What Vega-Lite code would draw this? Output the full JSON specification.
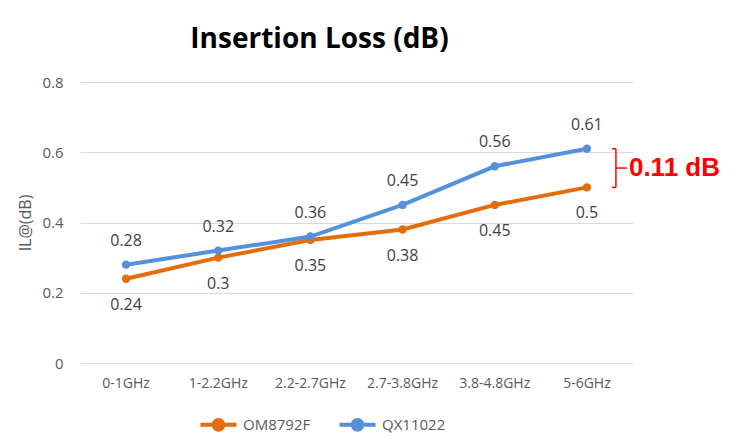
{
  "$schema": "https://vega.github.io/schema/vega-lite/v6.json",
  "autosize": {"type": "none"},
  "width": 553,
  "height": 281,
  "padding": {"left": 80, "top": 82, "right": 106, "bottom": 83},
  "background": "white",
  "title": {
    "text": "Insertion Loss (dB)",
    "font": "Open Sans",
    "fontSize": 28,
    "fontWeight": "bold",
    "color": "#000000",
    "anchor": "middle",
    "dx": -37,
    "offset": 21
  },
  "config": {
    "view": {"stroke": null},
    "font": "Open Sans"
  },
  "datasets": {
    "series": [
      {"band": "0-1GHz", "series": "OM8792F", "value": 0.24},
      {"band": "1-2.2GHz", "series": "OM8792F", "value": 0.3},
      {"band": "2.2-2.7GHz", "series": "OM8792F", "value": 0.35},
      {"band": "2.7-3.8GHz", "series": "OM8792F", "value": 0.38},
      {"band": "3.8-4.8GHz", "series": "OM8792F", "value": 0.45},
      {"band": "5-6GHz", "series": "OM8792F", "value": 0.5},
      {"band": "0-1GHz", "series": "QX11022", "value": 0.28},
      {"band": "1-2.2GHz", "series": "QX11022", "value": 0.32},
      {"band": "2.2-2.7GHz", "series": "QX11022", "value": 0.36},
      {"band": "2.7-3.8GHz", "series": "QX11022", "value": 0.45},
      {"band": "3.8-4.8GHz", "series": "QX11022", "value": 0.56},
      {"band": "5-6GHz", "series": "QX11022", "value": 0.61}
    ],
    "bracket": [
      {"band": "5-6GHz", "low": 0.5, "high": 0.61, "mid": 0.555, "label": "0.11 dB"}
    ]
  },
  "layer": [
    {
      "data": {"name": "series"},
      "mark": {"type": "line", "strokeWidth": 4, "point": {"filled": true, "size": 70}},
      "encoding": {
        "x": {
          "field": "band", "type": "nominal", "sort": null,
          "scale": {"paddingInner": 0, "paddingOuter": 0},
          "axis": {
            "title": null, "labelAngle": 0, "domain": false, "ticks": false,
            "labelFontSize": 14, "labelColor": "#595959", "labelPadding": 13,
            "labelFont": "Open Sans"
          }
        },
        "y": {
          "field": "value", "type": "quantitative",
          "scale": {"domain": [0, 0.8]},
          "axis": {
            "title": "IL@(dB)", "values": [0, 0.2, 0.4, 0.6, 0.8], "format": "~g",
            "domain": false, "ticks": false,
            "labelFontSize": 15, "labelColor": "#595959", "labelPadding": 17,
            "titleFontSize": 16, "titleFontWeight": "normal", "titleColor": "#595959",
            "titlePadding": 8,
            "gridColor": "#D9D9D9", "gridWidth": 1.2
          }
        },
        "color": {
          "field": "series", "type": "nominal",
          "scale": {"domain": ["OM8792F", "QX11022"], "range": ["#E46C0A", "#5590DA"]},
          "legend": {
            "title": null, "orient": "none", "direction": "horizontal",
            "legendX": 118, "legendY": 322,
            "symbolType": "M -1 0 L 1 0 M -0.27 0 A 0.27 0.27 0 1 0 0.27 0 A 0.27 0.27 0 1 0 -0.27 0",
            "symbolSize": 1300, "symbolStrokeWidth": 4,
            "labelFontSize": 15, "labelColor": "#595959", "labelFont": "Open Sans",
            "columnPadding": 20, "labelOffset": 4
          }
        }
      }
    },
    {
      "data": {"name": "series"},
      "transform": [{"filter": "datum.series === 'OM8792F'"}],
      "mark": {"type": "text", "dy": 26, "fontSize": 16, "color": "#404040"},
      "encoding": {
        "x": {"field": "band", "type": "nominal", "sort": null},
        "y": {"field": "value", "type": "quantitative"},
        "text": {"field": "value", "type": "quantitative", "format": "~g"}
      }
    },
    {
      "data": {"name": "series"},
      "transform": [{"filter": "datum.series === 'QX11022'"}],
      "mark": {"type": "text", "dy": -24, "fontSize": 16, "color": "#404040"},
      "encoding": {
        "x": {"field": "band", "type": "nominal", "sort": null},
        "y": {"field": "value", "type": "quantitative"},
        "text": {"field": "value", "type": "quantitative", "format": "~g"}
      }
    },
    {
      "data": {"name": "bracket"},
      "mark": {"type": "rule", "color": "#FF0000", "strokeWidth": 1.5, "xOffset": 29},
      "encoding": {
        "x": {"field": "band", "type": "nominal"},
        "y": {"field": "low", "type": "quantitative"},
        "y2": {"field": "high"}
      }
    },
    {
      "data": {"name": "bracket"},
      "mark": {"type": "rule", "color": "#FF0000", "strokeWidth": 1.5, "xOffset": 25, "x2Offset": 29},
      "encoding": {
        "x": {"field": "band", "type": "nominal"},
        "x2": {"field": "band"},
        "y": {"field": "low", "type": "quantitative"}
      }
    },
    {
      "data": {"name": "bracket"},
      "mark": {"type": "rule", "color": "#FF0000", "strokeWidth": 1.5, "xOffset": 25, "x2Offset": 29},
      "encoding": {
        "x": {"field": "band", "type": "nominal"},
        "x2": {"field": "band"},
        "y": {"field": "high", "type": "quantitative"}
      }
    },
    {
      "data": {"name": "bracket"},
      "mark": {"type": "rule", "color": "#FF0000", "strokeWidth": 1.5, "xOffset": 29, "x2Offset": 40},
      "encoding": {
        "x": {"field": "band", "type": "nominal"},
        "x2": {"field": "band"},
        "y": {"field": "mid", "type": "quantitative"}
      }
    },
    {
      "data": {"name": "bracket"},
      "mark": {"type": "text", "align": "left", "baseline": "middle", "dx": 42, "fontSize": 26, "fontWeight": "bold", "color": "#FF0000", "font": "Liberation Sans"},
      "encoding": {
        "x": {"field": "band", "type": "nominal"},
        "y": {"field": "mid", "type": "quantitative"},
        "text": {"field": "label"}
      }
    }
  ]
}
